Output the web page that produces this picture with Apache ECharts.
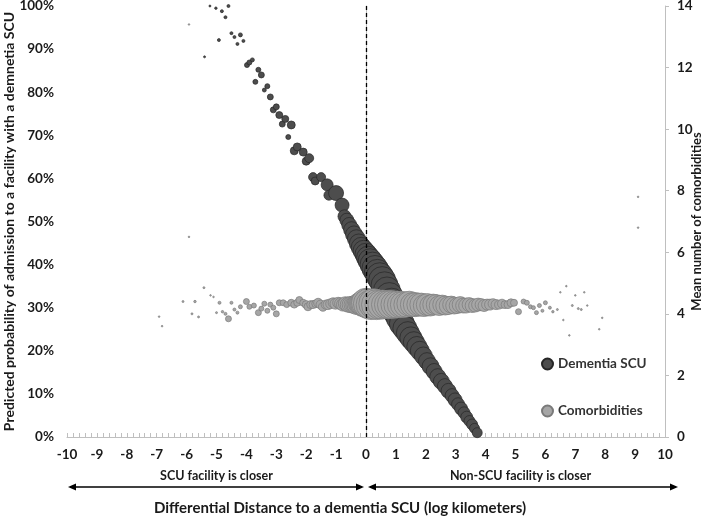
<!DOCTYPE html>
<html>
<head>
<meta charset="utf-8">
<script src="https://cdn.jsdelivr.net/npm/echarts@6/dist/echarts.min.js"></script>
<style>
html,body{margin:0;padding:0;background:#fff;}
#chart{width:709px;height:520px;}
</style>
</head>
<body>
<div id="chart"></div>
<script>
// ---- Data: Dementia SCU (predicted probability, %, left axis) ----
const scuX = [-5.4,-5.22,-5.02,-4.92,-4.82,-4.7,-4.6,-4.5,-4.4,-4.3,-4.2,-4.1,-3.98,-3.9,-3.8,-3.7,-3.6,-3.5,-3.4,-3.3,-3.2,-3.1,-3.0,-2.9,-2.8,-2.7,-2.6,-2.5,-2.4,-2.3,-2.1,-2.0,-1.9,-1.77,-1.7,-1.5,-1.3,-1.24,-1.0,-0.8,
  -0.72,-0.64,-0.56,-0.48,-0.4,-0.32,-0.24,-0.16,-0.08,0.0,0.07,0.14,0.22,0.3,0.38,0.46,0.54,0.62,0.7,0.78,0.86,0.94,1.02,1.1,1.2,1.3,1.4,1.5,1.6,1.7,1.8,1.92,2.04,2.16,2.28,2.4,2.52,2.64,2.76,2.88,2.98,3.08,3.18,3.28,3.37,3.46,3.55,3.63,3.72];
const scuY = [88.2,100,99.5,92.1,98.8,97.4,100,93.7,92.8,91.2,93.3,91.9,86.3,86.9,87.5,82.4,85.2,84.0,80.5,81.4,78.9,75.9,76.6,74.7,72.6,73.8,69.6,72.4,66.4,67.3,66.1,64.0,64.7,60.3,59.4,60.3,58.5,56.1,56.6,53.8,
  51.2,50.3,49.2,48.1,47.0,46.0,44.9,44.0,43.2,42.4,41.6,40.9,40.0,39.1,38.2,37.3,36.4,35.2,34.0,32.7,31.4,30.1,28.8,27.5,26.3,25.2,24.1,23.0,22.0,21.0,20.0,18.8,17.6,16.4,15.2,14.0,12.9,11.8,10.7,9.6,8.6,7.6,6.6,5.6,4.6,3.7,2.9,2.0,1.0];
// number of observations behind each point (bubble size)
const scuN = [4,4,6,9,9,9,9,9,9,9,16,9,25,25,16,25,25,36,16,25,36,36,36,49,36,49,25,64,64,64,64,64,81,81,64,81,144,100,225,196,
  169,196,225,256,289,324,361,400,441,484,529,576,625,676,676,729,729,729,729,729,729,676,676,625,625,576,529,484,441,400,361,324,289,289,256,256,256,225,225,196,196,169,169,144,144,121,121,100,100];

// ---- Data: Comorbidities (mean number, right axis) ----
const comX = [-6.92,-6.82,-6.12,-5.92,-5.92,-5.82,-5.72,-5.6,-5.42,-5.2,-5.1,-5.0,-4.9,-4.8,-4.7,-4.6,-4.5,-4.4,-4.3,-4.2,-4.0,-3.9,-3.75,-3.6,-3.5,-3.4,-3.3,-3.2,-3.1,-3.0,
  -2.9,-2.77,-2.65,-2.5,-2.4,-2.3,-2.23,-2.1,-2.0,-1.94,
  -1.85,-1.77,-1.68,-1.6,-1.52,-1.44,-1.35,-1.27,-1.18,-1.1,
  -1.02,-0.93,-0.85,-0.77,-0.69,-0.61,-0.53,-0.45,-0.38,-0.3,
  -0.22,-0.15,-0.08,0.0,0.08,0.17,0.26,0.35,0.45,0.55,
  0.65,0.75,0.85,0.95,1.05,1.15,1.25,1.35,1.45,1.55,
  1.65,1.75,1.85,1.95,2.05,2.15,2.25,2.35,2.45,2.55,
  2.65,2.75,2.85,2.95,3.05,3.15,3.25,3.35,3.45,3.55,
  3.65,3.75,3.85,3.95,4.05,4.15,4.25,4.35,4.45,4.55,
  4.65,4.75,4.85,4.95,
  5.1,5.27,5.38,5.5,5.6,5.7,5.8,5.9,6.0,6.15,6.25,6.4,6.5,6.6,6.7,6.8,6.9,7.0,7.1,7.2,7.3,7.4,7.8,7.9,9.1,9.1];
const comY = [3.91,3.6,4.4,13.4,6.5,4.0,4.4,3.9,4.85,4.6,4.55,4.04,4.36,4.07,4.0,3.84,4.36,4.14,4.04,4.23,4.4,4.23,4.27,4.04,4.17,4.33,4.1,4.3,4.2,4.0,
  4.36,4.36,4.3,4.36,4.3,4.36,4.45,4.36,4.3,4.23,
  4.3,4.3,4.33,4.36,4.3,4.23,4.3,4.3,4.33,4.36,
  4.33,4.36,4.33,4.3,4.33,4.3,4.3,4.3,4.3,4.3,
  4.33,4.33,4.33,4.36,4.33,4.3,4.33,4.3,4.3,4.3,
  4.3,4.3,4.3,4.3,4.3,4.3,4.3,4.3,4.33,4.3,
  4.3,4.3,4.3,4.27,4.3,4.27,4.3,4.3,4.27,4.3,
  4.27,4.27,4.3,4.27,4.27,4.3,4.27,4.27,4.3,4.27,
  4.27,4.3,4.3,4.27,4.3,4.3,4.33,4.3,4.3,4.33,
  4.3,4.3,4.36,4.36,
  4.07,4.4,4.36,4.23,4.2,4.04,4.27,4.1,4.36,4.2,4.07,4.14,4.7,3.8,4.9,3.3,4.27,4.6,4.17,4.14,4.7,4.27,3.5,3.87,7.8,6.8];
const comN = [2,2,4,2,2,4,6,4,4,2,2,4,9,6,9,36,9,9,9,16,36,25,25,36,25,25,25,25,25,36,
  36,36,36,49,49,49,49,49,64,64,
  64,64,64,81,81,81,81,100,100,100,
  121,121,144,169,196,225,256,289,324,400,
  484,576,676,841,900,900,900,900,841,841,
  784,784,784,729,729,676,676,625,625,576,
  576,529,529,484,484,441,441,400,400,361,
  361,324,289,289,256,256,225,225,196,196,
  169,169,144,144,121,121,100,100,81,81,
  64,64,64,49,
  36,25,25,16,16,16,16,9,16,9,6,4,2,2,2,2,4,2,4,4,2,2,2,2,1,1];

const xMin = -10, xMax = 10, xStep = 1;
const leftMax = 100, leftStep = 10;
const rightMax = 14, rightStep = 2;

const seriesNames = ['Dementia SCU', 'Comorbidities'];
const xTitle = 'Differential Distance to a dementia SCU (log kilometers)';
const leftTitle = 'Predicted probability of admission to a facility with a demnetia SCU';
const rightTitle = 'Mean number of comorbidities';
const leftNote = 'SCU facility is closer';
const rightNote = 'Non-SCU facility is closer';

const FONT = 'Lato';
const TXT = '#1a1a1a';

function zip(xs, ys, ns) { return xs.map((x, i) => [x, ys[i], ns[i]]); }
const sizeFn = v => Math.max(1.6, Math.sqrt(v[2]));

const chart = echarts.init(document.getElementById('chart'), null, {renderer: 'canvas'});
const option = {
  animation: false,
  backgroundColor: '#fff',
  textStyle: {fontFamily: FONT},
  grid: {left: 67, right: 44, top: 6, bottom: 83, containLabel: false, outerBoundsMode: 'none'},
  legend: {
    orient: 'vertical', left: 536, top: 352, itemGap: 33,
    itemWidth: 11, itemHeight: 11, icon: 'circle',
    textStyle: {fontFamily: FONT, fontSize: 13.5, color: '#333', fontWeight: 'bold'},
    data: seriesNames
  },
  xAxis: {
    type: 'value', min: xMin, max: xMax, interval: xStep,
    axisLine: {show: true, onZero: false, lineStyle: {color: '#bfbfbf', width: 1}},
    axisTick: {show: true, inside: true, length: 4, lineStyle: {color: '#bfbfbf'}},
    minorTick: {show: true, splitNumber: 5, length: 4, lineStyle: {color: '#bfbfbf'}},
    splitLine: {show: false},
    axisLabel: {margin: 11, fontFamily: FONT, fontSize: 13.5, fontWeight: 'bold', color: TXT}
  },
  yAxis: [{
    type: 'value', min: 0, max: leftMax, interval: leftStep, position: 'left',
    name: leftTitle, nameLocation: 'middle', nameGap: 51, nameMoveOverlap: false,
    nameTextStyle: {fontFamily: FONT, fontSize: 14, fontWeight: 'bold', color: TXT},
    axisLine: {show: true, lineStyle: {color: '#bfbfbf'}},
    axisTick: {show: false},
    splitLine: {show: false},
    axisLabel: {margin: 13, formatter: '{value}%', fontFamily: FONT, fontSize: 13.5, fontWeight: 'bold', color: TXT}
  }, {
    type: 'value', min: 0, max: rightMax, interval: rightStep, position: 'right',
    name: rightTitle, nameLocation: 'middle', nameGap: 25, nameMoveOverlap: false,
    nameTextStyle: {fontFamily: FONT, fontSize: 13, fontWeight: 'bold', color: TXT},
    axisLine: {show: true, lineStyle: {color: '#bfbfbf'}},
    axisTick: {show: true, length: 4, lineStyle: {color: '#bfbfbf'}},
    splitLine: {show: false},
    axisLabel: {margin: 12, fontFamily: FONT, fontSize: 13.5, fontWeight: 'bold', color: TXT}
  }],
  series: [{
    name: seriesNames[0], type: 'scatter', yAxisIndex: 0, clip: false,
    data: zip(scuX, scuY, scuN), symbol: 'circle', symbolSize: sizeFn,
    itemStyle: {color: '#4d4d4d', borderColor: '#262626', borderWidth: 0.7, opacity: 1}
  }, {
    name: seriesNames[1], type: 'scatter', yAxisIndex: 1, clip: false,
    data: zip(comX, comY, comN), symbol: 'circle', symbolSize: sizeFn,
    itemStyle: {color: '#a6a6a6', borderColor: '#7a7a7a', borderWidth: 0.7, opacity: 1},
    markLine: {
      silent: true, symbol: ['none', 'none'], z: 10,
      label: {show: false},
      lineStyle: {color: '#000', type: [4, 3], width: 1.3},
      data: [{xAxis: 0}]
    }
  }]
};
chart.setOption(option);

// annotations below the axis, positioned from the axis scale
const pL = chart.convertToPixel({xAxisIndex: 0}, xMin);
const p0 = chart.convertToPixel({xAxisIndex: 0}, 0);
const pR = chart.convertToPixel({xAxisIndex: 0}, xMax);
const arrowY = 487, ah = 8, aw = 3.5;
function arrow(x1, x2) {
  return [
    {type: 'line', shape: {x1: x1 + 2, y1: arrowY, x2: x2 - 2, y2: arrowY}, style: {stroke: '#000', lineWidth: 1.5}},
    {type: 'polygon', shape: {points: [[x1, arrowY], [x1 + ah, arrowY - aw], [x1 + ah, arrowY + aw]]}, style: {fill: '#000'}},
    {type: 'polygon', shape: {points: [[x2, arrowY], [x2 - ah, arrowY - aw], [x2 - ah, arrowY + aw]]}, style: {fill: '#000'}}
  ];
}
chart.setOption({
  graphic: [].concat(
    arrow(pL + 1, p0 - 2),
    arrow(p0 + 2, pR + 13),
    [
      {type: 'text', style: {text: leftNote, x: (pL + p0) / 2, y: 476, align: 'center', verticalAlign: 'middle', font: 'bold 12.5px ' + FONT, fill: TXT}},
      {type: 'text', style: {text: rightNote, x: (p0 + pR) / 2 + 5, y: 476, align: 'center', verticalAlign: 'middle', font: 'bold 12.5px ' + FONT, fill: TXT}},
      {type: 'text', style: {text: xTitle, x: 340, y: 508, align: 'center', verticalAlign: 'middle', font: 'bold 15px ' + FONT, fill: TXT}}
    ]
  )
});
</script>
</body>
</html>
